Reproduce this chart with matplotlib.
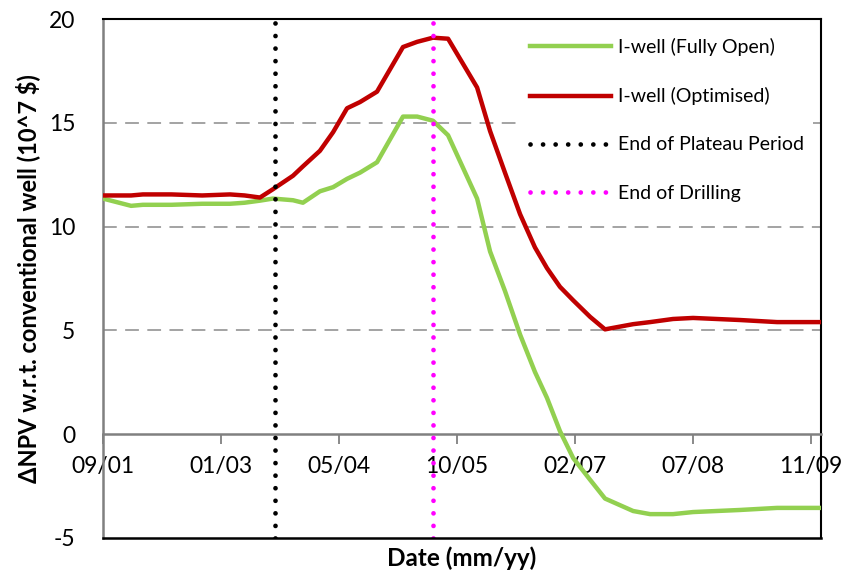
import numpy as np
import pandas as pd
import matplotlib
matplotlib.use("Agg")
import matplotlib.pyplot as plt
import matplotlib.dates as mdates

plt.rcParams['font.family'] = ['Lato', 'DejaVu Sans']
plt.rcParams['axes.unicode_minus'] = False

# Simulation report dates
dates = ["2001-09-01", "2001-12-29", "2002-02-17", "2002-06-18", "2002-10-26",
         "2003-02-21", "2003-04-24", "2003-06-28", "2003-08-22", "2003-11-15",
         "2003-12-27", "2004-03-08", "2004-05-03", "2004-07-01", "2004-08-25",
         "2004-11-05", "2005-02-23", "2005-04-24", "2005-06-30", "2005-09-02",
         "2006-01-03", "2006-02-27", "2006-05-01", "2006-07-04", "2006-09-05",
         "2006-10-26", "2006-12-20", "2007-02-14", "2007-04-27", "2007-06-29",
         "2007-10-26", "2008-01-06", "2008-04-12", "2008-07-06", "2009-01-21",
         "2009-06-27", "2009-12-30"]

# Delta NPV relative to the conventional well (10^7 $)
fully_open = [11.35, 11.0, 11.05, 11.05, 11.1,
              11.1, 11.15, 11.25, 11.35, 11.27,
              11.15, 11.7, 11.9, 12.3, 12.6,
              13.1, 15.3, 15.3, 15.1, 14.4,
              11.35, 8.8, 6.9, 4.8, 3.0,
              1.75, 0.15, -1.15, -2.2, -3.1,
              -3.7, -3.85, -3.85, -3.75, -3.65,
              -3.55, -3.55]
optimised = [11.5, 11.5, 11.55, 11.55, 11.5,
             11.55, 11.5, 11.4, 11.8, 12.45,
             12.9, 13.65, 14.55, 15.7, 16.0,
             16.5, 18.65, 18.9, 19.1, 19.05,
             16.7, 14.6, 12.6, 10.6, 9.0,
             8.0, 7.1, 6.45, 5.65, 5.05,
             5.3, 5.4, 5.55, 5.6, 5.5,
             5.4, 5.4]

end_of_plateau = "2003-08-30"
end_of_drilling = "2005-06-30"

x_start = "2001-09-01"
x_end = "2009-12-30"
tick_step_days = 500
yticks = [-5, 0, 5, 10, 15, 20]

x = pd.to_datetime(dates)
fig = plt.figure(figsize=(8.49, 5.76), dpi=100)
ax = fig.add_axes([103/849, 1-538/576, (821-103)/849, (538-19)/576])

ax.set_xlim(pd.Timestamp(x_start), pd.Timestamp(x_end))
ax.set_ylim(-5, 20)

# horizontal dashed gridlines
for yv in yticks[2:-1]:
    ax.axhline(yv, color='#8a8a8a', lw=1.1, ls=(0, (9, 5.5)), zorder=1)

ax.plot(x, fully_open, color='#92D050', lw=3.2, label='I-well (Fully Open)',
        solid_joinstyle='round', zorder=3)
ax.plot(x, optimised, color='#C00000', lw=3.2, label='I-well (Optimised)',
        solid_joinstyle='round', zorder=3)
ax.axvline(pd.Timestamp(end_of_plateau), color='black', lw=3.4,
           ls=(0, (0.01, 2.65)), dash_capstyle='round', zorder=4,
           label='End of Plateau Period')
ax.axvline(pd.Timestamp(end_of_drilling), color='#FF00FF', lw=3.4,
           ls=(0, (0.01, 2.65)), dash_capstyle='round', zorder=4,
           label='End of Drilling')

# frame: black border, grey value axis, grey category axis through zero
for side in ['top', 'right']:
    ax.spines[side].set_color('black')
    ax.spines[side].set_linewidth(1.5)
ax.spines['left'].set_color('#808080')
ax.spines['left'].set_linewidth(1.8)
ax.spines['bottom'].set_position(('data', 0))
ax.spines['bottom'].set_color('#808080')
ax.spines['bottom'].set_linewidth(1.8)
ax.axhline(-5, color='black', lw=1.8, zorder=5, clip_on=False)

start = pd.Timestamp(x_start)
ticks = [start + pd.Timedelta(days=k * tick_step_days) for k in range(7)]
ax.set_xticks(ticks)
ax.xaxis.set_major_formatter(mdates.DateFormatter('%m/%y'))
ax.tick_params(axis='x', direction='out', length=7, width=1.3, color='#808080',
               labelsize=16.5, pad=9)
ax.set_yticks(yticks)
ax.tick_params(axis='y', length=0, labelsize=16.5, pad=20)

leg = ax.legend(loc='upper right', bbox_to_anchor=(0.989, 0.980), frameon=True,
                fancybox=False, edgecolor='none', facecolor='white', framealpha=1,
                fontsize=14, handlelength=4.2, handletextpad=0.36,
                labelspacing=1.6, borderpad=0.45, borderaxespad=0.0)
leg.set_zorder(6)

fig.text(28/849, 1-279/576, 'ΔNPV w.r.t. conventional well (10^7 $)', rotation=90,
         ha='center', va='center', fontsize=17, fontweight='bold')
fig.text(462/849, 1-558/576, 'Date (mm/yy)', ha='center', va='center',
         fontsize=17.5, fontweight='bold')

fig.savefig('out.png', dpi=100)
